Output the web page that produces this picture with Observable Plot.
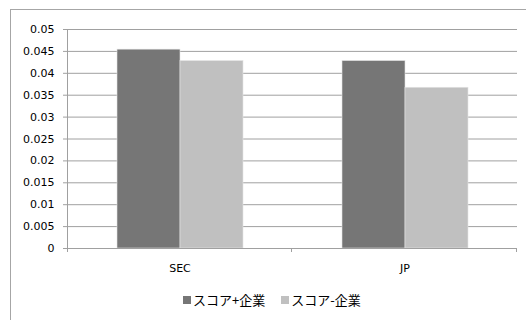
<!DOCTYPE html>
<html>
<head>
<meta charset="utf-8">
<script src="https://cdn.jsdelivr.net/npm/d3@7"></script>
<script src="https://cdn.jsdelivr.net/npm/@observablehq/plot@0.6"></script>
<style>
  html, body { margin: 0; padding: 0; background: #fff; overflow: hidden; }
  #wrap { position: relative; width: 526px; height: 320px; overflow: hidden; }
  #frame { position: absolute; left: 10px; top: 9px; width: 540px; height: 330px;
           border-left: 1px solid #a6a6a6; border-top: 1px solid #a6a6a6; }
  #chart { position: absolute; left: 0; top: 0; }
  #chart svg { color: #a0a0a0; }
  #chart svg text { fill: #000; }
  #legend { position: absolute; left: 183px; top: 292px; display: flex; align-items: center;
            font-family: "Noto Sans CJK JP", sans-serif; font-size: 13px; color: #000; line-height: 16px; }
  .item { display: flex; align-items: center; margin-right: 16px; }
  .swatch { width: 8px; height: 8px; margin-right: 2px; }
</style>
</head>
<body>
<div id="wrap">
  <div id="frame"></div>
  <div id="chart"></div>
  <div id="legend"></div>
</div>
<script>
// Categories, series and values
const categories = ["SEC", "JP"];
const seriesNames = ["スコア+企業", "スコア-企業"];
const seriesColors = ["#767676", "#c0c0c0"];
const valuesPlus = [0.0454, 0.0428];   // スコア+企業
const valuesMinus = [0.0428, 0.0367];  // スコア-企業
const yTicks = [0, 0.005, 0.01, 0.015, 0.02, 0.025, 0.03, 0.035, 0.04, 0.045, 0.05];

const rows = [];
categories.forEach((c, i) => {
  rows.push({cat: c, series: seriesNames[0], value: valuesPlus[i]});
  rows.push({cat: c, series: seriesNames[1], value: valuesMinus[i]});
});

const plot = Plot.plot({
  width: 526,
  height: 320,
  marginLeft: 67,
  marginRight: 9,
  marginTop: 29,
  marginBottom: 72,
  style: {fontFamily: "DejaVu Sans", fontSize: "11px", background: "transparent", overflow: "visible"},
  fx: {domain: categories, padding: 0, axis: "bottom", label: null, tickSize: 0, tickPadding: 16},
  x: {domain: seriesNames, paddingInner: 0, paddingOuter: 0.758, axis: null},
  y: {domain: [0, 0.05], ticks: yTicks, tickFormat: d => String(d), tickSize: 4, tickPadding: 9, label: null},
  color: {domain: seriesNames, range: seriesColors},
  marks: [
    Plot.ruleY(yTicks, {stroke: "#a0a0a0", strokeWidth: 1}),
    Plot.barY(rows, {fx: "cat", x: "series", y: "value", fill: "series", stroke: "#e4e4e4", strokeWidth: 0.6}),
    Plot.ruleY([0], {stroke: "#a0a0a0", strokeWidth: 1})
  ]
});

document.getElementById("chart").appendChild(plot);

// Axis line and category boundary ticks, placed from the chart's own scales
const fxs = plot.scale("fx");
const ys = plot.scale("y");
const [xl, xr] = fxs.range;
const y0 = ys.range[0], yTop = ys.range[1];
const step = (xr - xl) / fxs.domain.length;
const svg = d3.select(plot);
const g = svg.append("g").attr("stroke", "#a0a0a0").attr("stroke-width", 1);
g.append("line").attr("x1", xl + 0.5).attr("x2", xl + 0.5).attr("y1", yTop).attr("y2", y0 + 4);
d3.range(1, fxs.domain.length + 1).forEach(i => {
  const x = Math.round(xl + i * step) - 0.5;
  g.append("line").attr("x1", x).attr("x2", x).attr("y1", y0).attr("y2", y0 + 4);
});

// Legend
const legend = d3.select("#legend");
seriesNames.forEach((name, i) => {
  const item = legend.append("div").attr("class", "item");
  item.append("div").attr("class", "swatch").style("background", seriesColors[i]);
  item.append("span").text(name);
});
</script>
</body>
</html>
